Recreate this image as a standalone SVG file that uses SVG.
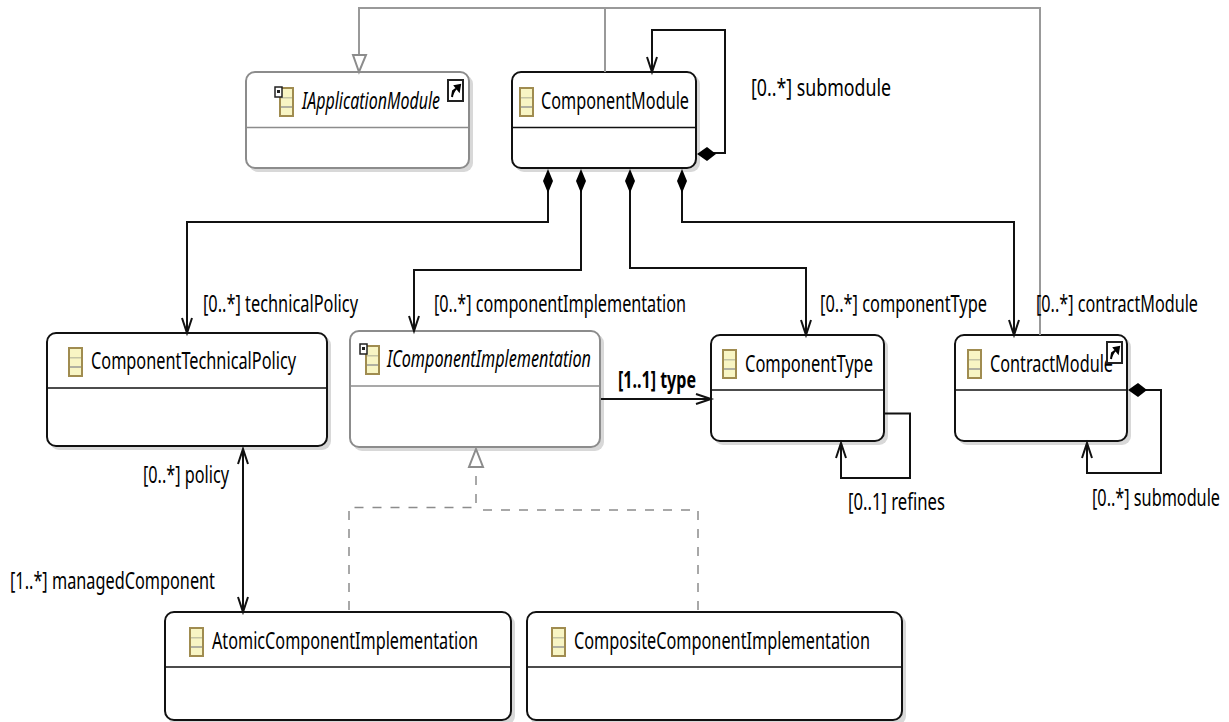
<svg xmlns="http://www.w3.org/2000/svg" width="1229" height="722" viewBox="0 0 1229 722">
<style>
text{font-family:"Noto Sans","DejaVu Sans",sans-serif;font-size:23px;fill:#000}
.i{font-style:italic}
.b{font-weight:bold}
.box{fill:#fff;stroke:#111;stroke-width:2}
.gbox{fill:#fff;stroke:#8c8c8c;stroke-width:2}
.sh{fill:#d8d8d8}
.dv{stroke:#111;stroke-width:1.5}
.gdv{stroke:#8c8c8c;stroke-width:1.5}
.c{fill:none;stroke:#111;stroke-width:2}
.g{fill:none;stroke:#999;stroke-width:2}
.d{fill:none;stroke:#8c8c8c;stroke-width:1.5;stroke-dasharray:9 9}
.ih{fill:none;stroke:#111;stroke-width:2}
.dm{fill:#000}
.tr{fill:#fff;stroke:#8c8c8c;stroke-width:2}
</style>
<defs>
<g id="cls">
<rect x="0" y="0" width="13" height="28" fill="#f8f5c4" stroke="#a08c50" stroke-width="2"/>
<rect x="1" y="9" width="11" height="1.500" fill="#c4c4a4"/>
<rect x="1" y="18" width="11" height="2" fill="#b0b0a0"/>
</g>
<g id="sc">
<rect x="0" y="0" width="15" height="21" fill="#fff" stroke="#222" stroke-width="2"/>
<path d="M4 17 L5 11 L9 8 M7 6 L12 5 L11 11 Z" fill="#000" stroke="#000" stroke-width="2"/>
</g>
<g id="ifc">
<rect x="0" y="0" width="7" height="10" fill="#fff" stroke="#222" stroke-width="1.500"/>
<rect x="2" y="3" width="3" height="3" fill="#222"/>
</g>
</defs>

<g id="IApplicationModule">
<rect class="sh" x="249" y="75" width="224" height="97" rx="9"/>
<rect class="gbox" x="246" y="72" width="223" height="96" rx="9"/>
<path class="gdv" d="M246 127.500H469"/>
<use href="#cls" x="280" y="88"/>
<use href="#ifc" x="275" y="87"/>
<text class="i" x="302" y="109" textLength="138" lengthAdjust="spacingAndGlyphs">IApplicationModule</text>
<use href="#sc" x="448" y="80"/>
</g>
<g id="ComponentModule">
<rect class="sh" x="515" y="75" width="185" height="97" rx="9"/>
<rect class="box" x="512" y="72" width="184" height="96" rx="9"/>
<path class="dv" d="M512 127.500H696"/>
<use href="#cls" x="520" y="88"/>
<text x="541" y="109" textLength="148" lengthAdjust="spacingAndGlyphs">ComponentModule</text>
</g>
<g id="ComponentTechnicalPolicy">
<rect class="sh" x="50" y="336" width="281" height="114" rx="9"/>
<rect class="box" x="47" y="333" width="280" height="113" rx="9"/>
<path class="dv" d="M47 388H327"/>
<use href="#cls" x="69" y="348"/>
<text x="91" y="369" textLength="205" lengthAdjust="spacingAndGlyphs">ComponentTechnicalPolicy</text>
</g>
<g id="IComponentImplementation">
<rect class="sh" x="353" y="334" width="251" height="117" rx="9"/>
<rect class="gbox" x="350" y="331" width="250" height="116" rx="9"/>
<path class="gdv" d="M350 386H600"/>
<use href="#cls" x="366" y="346"/>
<use href="#ifc" x="360" y="344"/>
<text class="i" x="387" y="367" textLength="204" lengthAdjust="spacingAndGlyphs">IComponentImplementation</text>
</g>
<g id="ComponentType">
<rect class="sh" x="714" y="338" width="174" height="107" rx="9"/>
<rect class="box" x="711" y="335" width="173" height="106" rx="9"/>
<path class="dv" d="M711 390H884"/>
<use href="#cls" x="723" y="350"/>
<text x="745" y="372" textLength="128" lengthAdjust="spacingAndGlyphs">ComponentType</text>
</g>
<g id="ContractModule">
<rect class="sh" x="958" y="338" width="173" height="107" rx="9"/>
<rect class="box" x="955" y="335" width="172" height="106" rx="9"/>
<path class="dv" d="M955 390H1127"/>
<use href="#cls" x="968" y="350"/>
<text x="990" y="372" textLength="123" lengthAdjust="spacingAndGlyphs">ContractModule</text>
<use href="#sc" x="1107" y="342"/>
</g>
<g id="AtomicComponentImplementation">
<rect class="sh" x="168" y="615" width="347" height="110" rx="9"/>
<rect class="box" x="165" y="612" width="346" height="108" rx="9"/>
<path class="dv" d="M165 667H511"/>
<use href="#cls" x="190" y="628"/>
<text x="212" y="649" textLength="266" lengthAdjust="spacingAndGlyphs">AtomicComponentImplementation</text>
</g>
<g id="CompositeComponentImplementation">
<rect class="sh" x="530" y="615" width="376" height="110" rx="9"/>
<rect class="box" x="527" y="612" width="375" height="108" rx="9"/>
<path class="dv" d="M527 667H902"/>
<use href="#cls" x="552" y="628"/>
<text x="574" y="649" textLength="296" lengthAdjust="spacingAndGlyphs">CompositeComponentImplementation</text>
</g>

<g id="connectors">
<path class="g" d="M359 55V8H1040V335M605 8V72"/>
<path class="tr" d="M359 72L353 55H366Z"/>
<path class="c" d="M708 153H725V30H652V72"/>
<path class="ih" d="M647 57L652 72L657 57"/>
<path class="dm" d="M697 154L707 147L716 154L707 161Z"/>
<path class="c" d="M548 190V222H187V333"/>
<path class="ih" d="M182 318L187 333L192 318"/>
<path class="dm" d="M548 169L553 181L548 193L543 181Z"/>
<path class="c" d="M581 190V270H414V331"/>
<path class="ih" d="M409 316L414 331L419 316"/>
<path class="dm" d="M581 169L586 181L581 193L576 181Z"/>
<path class="c" d="M630 190V268H806V335"/>
<path class="ih" d="M801 320L806 335L811 320"/>
<path class="dm" d="M630 169L635 181L630 193L625 181Z"/>
<path class="c" d="M682 190V222H1014V335"/>
<path class="ih" d="M1009 320L1014 335L1019 320"/>
<path class="dm" d="M682 169L687 181L682 193L677 181Z"/>
<path class="c" d="M601 399H711"/>
<path class="ih" d="M696 394L711 399L696 404"/>
<path class="c" d="M885 413.500H910V478H841V443"/>
<path class="ih" d="M836 458L841 443L846 458"/>
<path class="c" d="M1140 390H1161V473H1087V443"/>
<path class="ih" d="M1082 458L1087 443L1092 458"/>
<path class="dm" d="M1128 390L1138 383L1147 390L1138 397Z"/>
<path class="c" d="M243 449V612"/>
<path class="ih" d="M238 464L243 449L248 464M238 597L243 612L248 597"/>
<path class="d" d="M476 476V507.500H349V612"/>
<path class="d" d="M483 510H698V612"/>
<path class="tr" d="M476 449L483 467H469Z"/>
</g>

<g id="labels">
<text x="751" y="96" textLength="140" lengthAdjust="spacingAndGlyphs">[0..*] submodule</text>
<text x="203" y="312" textLength="155" lengthAdjust="spacingAndGlyphs">[0..*] technicalPolicy</text>
<text x="434" y="312" textLength="252" lengthAdjust="spacingAndGlyphs">[0..*] componentImplementation</text>
<text x="820" y="312" textLength="167" lengthAdjust="spacingAndGlyphs">[0..*] componentType</text>
<text x="1036" y="312" textLength="162" lengthAdjust="spacingAndGlyphs">[0..*] contractModule</text>
<text class="b" x="618" y="388" textLength="78" lengthAdjust="spacingAndGlyphs">[1..1] type</text>
<text x="848" y="510" textLength="97" lengthAdjust="spacingAndGlyphs">[0..1] refines</text>
<text x="1092" y="506" textLength="128" lengthAdjust="spacingAndGlyphs">[0..*] submodule</text>
<text x="143" y="483" textLength="86" lengthAdjust="spacingAndGlyphs">[0..*] policy</text>
<text x="10" y="589" textLength="205" lengthAdjust="spacingAndGlyphs">[1..*] managedComponent</text>
</g>
</svg>
